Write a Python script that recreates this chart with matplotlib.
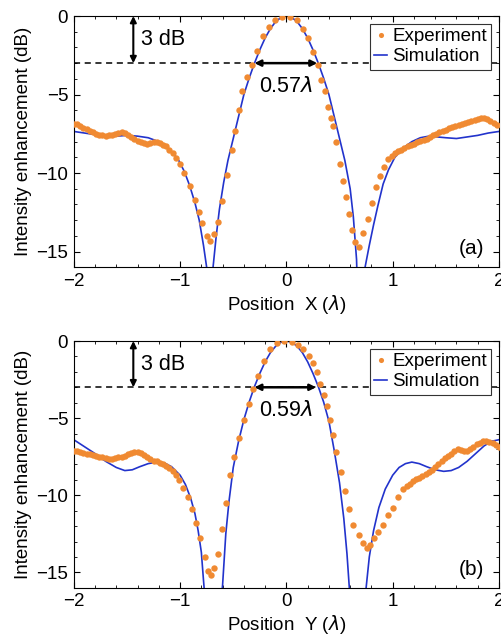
import numpy as np
import matplotlib.pyplot as plt
from matplotlib.ticker import MultipleLocator

plt.rcParams['font.family'] = ['Liberation Sans', 'DejaVu Sans']
plt.rcParams['mathtext.fontset'] = 'dejavusans'

ORANGE = '#F08A32'
BLUE = '#2233CC'

# --- panel (a): experiment ---
xa_exp = [-2.00, -1.97, -1.94, -1.91, -1.88, -1.85, -1.82, -1.79, -1.76, -1.73,
          -1.70, -1.67, -1.64, -1.61, -1.58, -1.55, -1.52, -1.49, -1.46, -1.43,
          -1.40, -1.37, -1.34, -1.31, -1.28, -1.25, -1.22, -1.19, -1.16, -1.13,
          -1.10, -1.07, -1.04, -1.00, -0.96, -0.91, -0.86, -0.82, -0.79, -0.75,
          -0.72, -0.68, -0.645, -0.61, -0.56, -0.51, -0.48, -0.45, -0.42, -0.37,
          -0.32, -0.28, -0.22, -0.16, -0.11, -0.04, 0.03, 0.10, 0.16, 0.20,
          0.25, 0.30, 0.33, 0.36, 0.39, 0.42, 0.44, 0.47, 0.50, 0.53,
          0.56, 0.59, 0.62, 0.65, 0.68, 0.72, 0.77, 0.81, 0.84, 0.88,
          0.92, 0.96, 0.99, 1.02, 1.05, 1.08, 1.11, 1.14, 1.17, 1.20,
          1.23, 1.26, 1.29, 1.32, 1.35, 1.38, 1.41, 1.44, 1.47, 1.50,
          1.53, 1.56, 1.59, 1.62, 1.65, 1.68, 1.71, 1.74, 1.77, 1.80,
          1.83, 1.86, 1.89, 1.92, 1.95, 1.98]
ya_exp = [-6.85, -6.9, -7.0, -7.1, -7.2, -7.3, -7.4, -7.5, -7.55, -7.6,
          -7.65, -7.6, -7.55, -7.5, -7.45, -7.4, -7.45, -7.55, -7.7, -7.85,
          -7.95, -8.0, -8.1, -8.15, -8.1, -8.05, -8.05, -8.1, -8.2, -8.3,
          -8.5, -8.75, -9.05, -9.4, -10.0, -10.8, -11.7, -12.5, -13.2, -14.0,
          -14.3, -13.9, -13.1, -11.8, -10.1, -8.5, -7.3, -6.0, -4.8, -3.9,
          -3.1, -2.2, -1.3, -0.7, -0.25, -0.05, -0.05, -0.25, -0.8, -1.4,
          -2.3, -3.1, -4.1, -4.8, -5.8, -6.5, -7.0, -8.0, -9.4, -10.5,
          -11.5, -12.6, -13.6, -14.4, -14.7, -13.8, -12.9, -11.9, -10.9, -10.2,
          -9.6, -9.1, -8.9, -8.75, -8.6, -8.5, -8.4, -8.3, -8.2, -8.12,
          -8.05, -7.98, -7.9, -7.8, -7.7, -7.6, -7.5, -7.4, -7.32, -7.25,
          -7.15, -7.08, -7.02, -6.95, -6.88, -6.82, -6.75, -6.68, -6.62, -6.57,
          -6.52, -6.52, -6.58, -6.7, -6.82, -6.95]

# --- panel (a): simulation ---
xa_sim = [-2.0, -1.9, -1.8, -1.7, -1.6, -1.5, -1.4, -1.3, -1.2, -1.1,
          -1.02, -0.96, -0.91, -0.86, -0.82, -0.78, -0.75, -0.72, -0.69, -0.66,
          -0.63, -0.59, -0.55, -0.50, -0.45, -0.40, -0.35, -0.30, -0.25, -0.20,
          -0.15, -0.10, -0.05, 0.0, 0.05, 0.10, 0.15, 0.20, 0.25, 0.30,
          0.35, 0.40, 0.45, 0.50, 0.55, 0.60, 0.63, 0.66, 0.70, 0.74,
          0.78, 0.82, 0.86, 0.91, 0.96, 1.02, 1.10, 1.18, 1.26, 1.34,
          1.42, 1.50, 1.60, 1.70, 1.80, 1.90, 2.0]
ya_sim = [-7.35, -7.45, -7.55, -7.6, -7.65, -7.6, -7.65, -7.75, -8.0, -8.5,
          -9.1, -9.9, -10.8, -11.9, -13.0, -14.6, -16.0, -25.0, -16.0, -14.0,
          -12.3, -10.6, -9.2, -7.8, -6.4, -5.0, -3.95, -3.0, -2.15, -1.4,
          -0.8, -0.35, -0.09, 0.0, -0.09, -0.35, -0.8, -1.4, -2.15, -3.0,
          -3.95, -5.0, -6.4, -7.8, -9.2, -11.0, -12.8, -15.5, -25.0, -16.0,
          -14.6, -13.3, -12.1, -10.7, -9.8, -9.0, -8.4, -8.0, -7.75, -7.65,
          -7.7, -7.75, -7.8, -7.7, -7.6, -7.45, -7.35]

# --- panel (b): experiment ---
xb_exp = [-2.00, -1.97, -1.94, -1.91, -1.88, -1.85, -1.82, -1.79, -1.76, -1.73,
          -1.70, -1.67, -1.64, -1.61, -1.58, -1.55, -1.52, -1.49, -1.46, -1.43,
          -1.40, -1.37, -1.34, -1.31, -1.28, -1.25, -1.22, -1.19, -1.16, -1.13,
          -1.10, -1.07, -1.04, -1.01, -0.97, -0.93, -0.89, -0.85, -0.81, -0.77,
          -0.74, -0.71, -0.68, -0.645, -0.61, -0.57, -0.53, -0.49, -0.45, -0.40,
          -0.35, -0.31, -0.27, -0.21, -0.15, -0.09, -0.02, 0.05, 0.11, 0.16,
          0.21, 0.25, 0.29, 0.32, 0.35, 0.38, 0.41, 0.44, 0.47, 0.51,
          0.55, 0.59, 0.63, 0.68, 0.72, 0.76, 0.79, 0.82, 0.86, 0.91,
          0.96, 1.00, 1.05, 1.10, 1.13, 1.16, 1.19, 1.22, 1.25, 1.28,
          1.31, 1.34, 1.37, 1.40, 1.43, 1.46, 1.49, 1.52, 1.55, 1.58,
          1.61, 1.64, 1.67, 1.70, 1.73, 1.76, 1.79, 1.82, 1.85, 1.88,
          1.91, 1.94, 1.97, 2.00]
yb_exp = [-7.1, -7.15, -7.2, -7.25, -7.3, -7.35, -7.4, -7.45, -7.5, -7.55,
          -7.6, -7.65, -7.65, -7.6, -7.55, -7.5, -7.45, -7.35, -7.25, -7.2,
          -7.2, -7.25, -7.4, -7.55, -7.65, -7.75, -7.8, -7.9, -8.0, -8.1,
          -8.25, -8.45, -8.7, -9.0, -9.5, -10.1, -10.9, -11.8, -12.8, -14.0,
          -14.9, -15.2, -14.7, -13.8, -12.2, -10.5, -8.7, -7.5, -6.3, -5.1,
          -4.1, -3.1, -2.3, -1.3, -0.55, -0.15, 0.0, -0.05, -0.25, -0.55,
          -0.95, -1.4, -2.0, -2.8, -3.5, -4.2, -5.1, -6.1, -7.2, -8.5,
          -9.7, -10.9, -11.9, -12.6, -13.1, -13.4, -13.2, -12.8, -12.4, -11.9,
          -11.3, -10.8, -10.1, -9.6, -9.4, -9.25, -9.1, -8.95, -8.85, -8.75,
          -8.65, -8.5, -8.35, -8.2, -8.0, -7.8, -7.6, -7.45, -7.3, -7.1,
          -7.0, -7.05, -7.1, -7.15, -7.0, -6.85, -6.7, -6.6, -6.5, -6.5,
          -6.55, -6.6, -6.75, -6.85]

# --- panel (b): simulation ---
xb_sim = [-2.0, -1.9, -1.8, -1.7, -1.6, -1.52, -1.45, -1.38, -1.3, -1.22,
          -1.15, -1.08, -1.0, -0.95, -0.9, -0.86, -0.83, -0.80, -0.78, -0.75,
          -0.69, -0.63, -0.60, -0.57, -0.54, -0.50, -0.45, -0.40, -0.35, -0.30,
          -0.25, -0.20, -0.15, -0.10, -0.05, 0.0, 0.05, 0.10, 0.15, 0.20,
          0.25, 0.30, 0.35, 0.40, 0.45, 0.50, 0.54, 0.57, 0.59, 0.62,
          0.67, 0.72, 0.75, 0.78, 0.82, 0.87, 0.93, 1.0, 1.06, 1.12,
          1.18, 1.25, 1.32, 1.40, 1.48, 1.55, 1.62, 1.70, 1.78, 1.86,
          1.93, 2.0]
yb_sim = [-6.4, -6.85, -7.3, -7.8, -8.2, -8.4, -8.35, -8.15, -7.95, -7.85,
          -7.9, -8.15, -8.7, -9.3, -10.2, -11.2, -12.3, -13.7, -15.5, -18.0,
          -25.0, -18.0, -15.8, -12.5, -10.4, -8.2, -6.5, -5.1, -3.95, -2.95,
          -2.1, -1.35, -0.75, -0.33, -0.08, 0.0, -0.08, -0.33, -0.75, -1.35,
          -2.1, -2.95, -3.95, -5.2, -7.1, -9.2, -11.5, -13.8, -15.8, -18.5,
          -25.0, -18.5, -16.0, -14.0, -12.3, -10.8, -9.6, -8.7, -8.2, -7.95,
          -7.85, -7.95, -8.15, -8.35, -8.45, -8.4, -8.2, -7.8, -7.3, -6.8,
          -6.5, -6.4]

panels = [
    (xa_exp, ya_exp, xa_sim, ya_sim, 'Position  X ($\\lambda$)', '(a)',
     (-0.30, 0.29), '0.57$\\lambda$', -1.44),
    (xb_exp, yb_exp, xb_sim, yb_sim, 'Position  Y ($\\lambda$)', '(b)',
     (-0.30, 0.28), '0.59$\\lambda$', -1.44),
]
boxes = [[0.147, 0.583, 0.847, 0.392], [0.147, 0.083, 0.847, 0.385]]

fig = plt.figure(figsize=(5.02, 6.41), dpi=100)
for box, (xe, ye, xs, ys, xlab, tag, fw, fwtxt, x3) in zip(boxes, panels):
    ax = fig.add_axes(box)
    ax.plot(xe, ye, 'o', color=ORANGE, ms=4.6, mec='none', label='Experiment', zorder=3)
    ax.plot(xs, ys, '-', color=BLUE, lw=1.2, label='Simulation', zorder=2)
    ax.axhline(-3, color='black', ls=(0, (4, 3)), lw=1.1, zorder=1)

    # 3 dB arrow and FWHM arrow
    ax.annotate('', xy=(x3, 0), xytext=(x3, -3),
                arrowprops=dict(arrowstyle='<|-|>', color='black', lw=1.5,
                                mutation_scale=9, shrinkA=0, shrinkB=0))
    ax.text(x3 + 0.07, -1.5, '3 dB', fontsize=15.5, va='center', ha='left')
    ax.annotate('', xy=(fw[0], -3), xytext=(fw[1], -3),
                arrowprops=dict(arrowstyle='<|-|>', color='black', lw=1.8,
                                mutation_scale=9, shrinkA=0, shrinkB=0), zorder=4)
    ax.text(0.0, -4.5, fwtxt, fontsize=15.5, ha='center', va='center')
    ax.text(1.74, -14.8, tag, fontsize=15, ha='center', va='center')

    ax.set_xlim(-2, 2)
    ax.set_ylim(-16, 0)
    ax.set_xticks([-2, -1, 0, 1, 2])
    ax.set_xticklabels(['\u22122', '\u22121', '0', '1', '2'])
    ax.set_yticks([0, -5, -10, -15])
    ax.set_yticklabels(['0', '\u22125', '\u221210', '\u221215'])
    ax.xaxis.set_minor_locator(MultipleLocator(0.2))
    ax.yaxis.set_minor_locator(MultipleLocator(1))
    ax.tick_params(which='both', direction='in', top=True, right=True, labelsize=13.5)
    ax.tick_params(which='major', length=4, pad=4)
    ax.tick_params(which='minor', length=2)
    ax.set_xlabel(xlab, fontsize=13.5, labelpad=2)
    ax.set_ylabel('Intensity enhancement (dB)', fontsize=13.5, labelpad=3)
    leg = ax.legend(loc='upper right', fontsize=13.5, frameon=True, fancybox=False,
                    handlelength=0.7, handletextpad=0.25, borderpad=0.25,
                    labelspacing=0.15, borderaxespad=0.4, numpoints=1,
                    framealpha=1, markerscale=0.8)
    leg.get_frame().set_edgecolor('#333333')
    leg.get_frame().set_linewidth(0.8)

fig.savefig('out.png', dpi=100)
